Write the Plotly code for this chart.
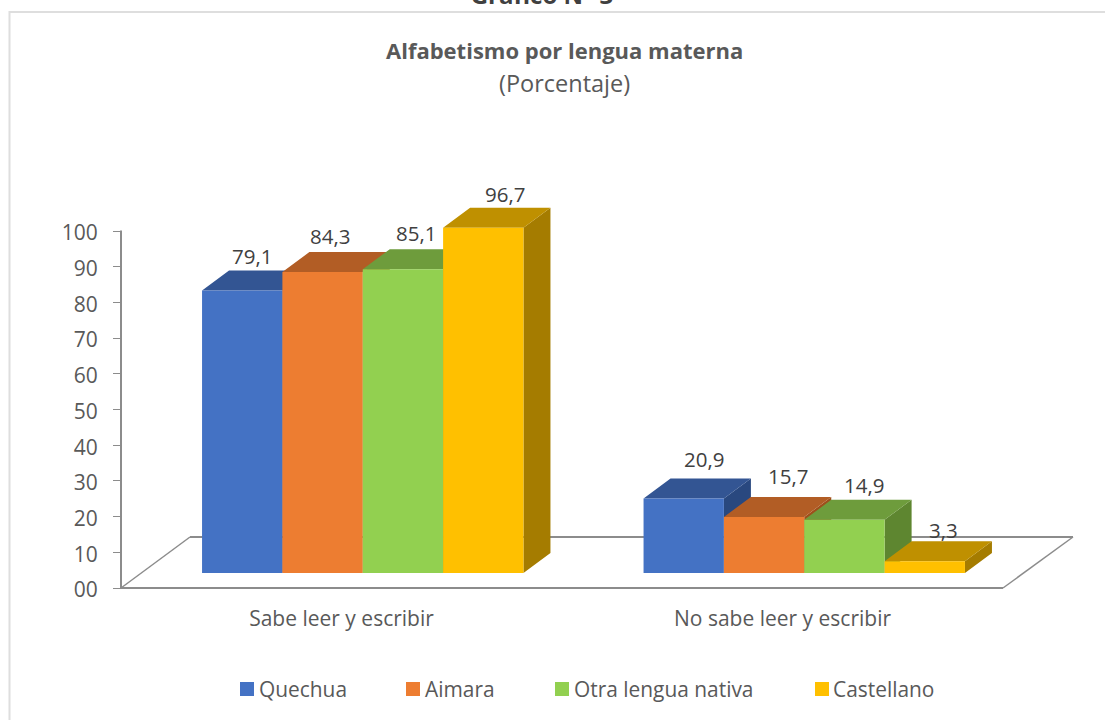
import plotly.graph_objects as go

categories = ["Sabe leer y escribir", "No sabe leer y escribir"]
series_names = ["Quechua", "Aimara", "Otra lengua nativa", "Castellano"]
quechua = [79.1, 20.9]
aimara = [84.3, 15.7]
otra = [85.1, 14.9]
castellano = [96.7, 3.3]
series_values = [quechua, aimara, otra, castellano]
value_labels = [["79,1", "20,9"], ["84,3", "15,7"], ["85,1", "14,9"], ["96,7", "3,3"]]
tick_values = [0, 10, 20, 30, 40, 50, 60, 70, 80, 90, 100]
tick_labels = ["00", "10", "20", "30", "40", "50", "60", "70", "80", "90", "100"]
front_colors = ["#4472C4", "#ED7D31", "#92D050", "#FFC000"]
top_colors = ["#335593", "#B25D25", "#6E9C3C", "#BF9000"]
side_colors = ["#29487F", "#9E4F1B", "#5E8630", "#A57C00"]

W, H = 1105, 720
FONT = "Open Sans"
GREY = "#595959"


def px(v):
    return v / W


def py(v):
    return 1 - v / H


# Axis geometry (pixels)
X0, X1 = 121, 1003
Y0, Y100 = 588, 231
UNIT = (Y0 - Y100) / 100
SHIFT_X, SHIFT_Y = 21, 15
DEPTH_X, DEPTH_Y = 27, 20
UX = (X1 - X0) / 2
UX2 = 441.5
BAR_W = 80.35 / UX2
dx = DEPTH_X / UX2
dy = DEPTH_Y / UNIT

fig = go.Figure()

# invisible trace keeps the visible axes pair alive
fig.add_trace(go.Scatter(x=[0, 1], y=[0, 0], mode="markers", marker=dict(opacity=0),
                         xaxis="x", yaxis="y", showlegend=False, hoverinfo="skip"))

z = 1
for i, name in enumerate(series_names):
    vals = series_values[i]
    left = [c - 2 * BAR_W + i * BAR_W for c in range(2)]
    tx, ty, sx, sy = [], [], [], []
    for l, v in zip(left, vals):
        r = l + BAR_W
        tx += [l, l + dx, r + dx, r, l, None]
        ty += [v, v + dy, v + dy, v, v, None]
        sx += [r, r + dx, r + dx, r, r, None]
        sy += [0, dy, v + dy, v, 0, None]
    fig.add_trace(go.Scatter(x=sx, y=sy, mode="lines", fill="toself", fillcolor=side_colors[i],
                             line=dict(width=0), xaxis="x2", yaxis="y2", showlegend=False,
                             hoverinfo="skip", zorder=z))
    fig.add_trace(go.Scatter(x=tx, y=ty, mode="lines", fill="toself", fillcolor=top_colors[i],
                             line=dict(width=0), xaxis="x2", yaxis="y2", showlegend=False,
                             hoverinfo="skip", zorder=z + 1))
    fig.add_trace(go.Bar(x=[0, 1], y=vals, name=name, marker=dict(color=front_colors[i], line=dict(width=0)),
                         xaxis="x2", yaxis="y2", zorder=z + 2, showlegend=False))
    z += 3

# data labels: offsets from the bar's top-back edge, in pixels
label_off_x = [[10, 20], [7, 24], [13, 20], [22, 19]]
label_off_y = [[15, 19], [16, 21], [16, 15], [14, 11]]
for i in range(4):
    for c in range(2):
        cx = c - 2 * BAR_W + (i + 0.5) * BAR_W
        fig.add_annotation(x=cx, y=series_values[i][c] + dy, xref="x2", yref="y2", text=value_labels[i][c],
                           showarrow=False, xanchor="center", yanchor="middle",
                           xshift=label_off_x[i][c], yshift=label_off_y[i][c],
                           font=dict(family=FONT, size=20.5, color="#404040"))

fig.update_layout(
    width=W, height=H, autosize=False,
    margin=dict(l=0, r=0, t=0, b=0),
    paper_bgcolor="white", plot_bgcolor="rgba(0,0,0,0)",
    barmode="group", bargap=1 - 4 * BAR_W, bargroupgap=0,
    showlegend=False,
    font=dict(family=FONT, color=GREY),
    title=dict(text="<b>Gráfico N° 3</b>", x=px(542), xanchor="center", y=py(4), yanchor="bottom",
               font=dict(family=FONT, size=24, color="#404040")),
    xaxis=dict(domain=[px(X0), px(X1)], range=[-0.5, 1.5], anchor="y", tickmode="array", automargin=False,
               tickvals=[0, 1], ticktext=categories, showgrid=False, zeroline=False,
               showline=False, ticks="", ticklen=0,
               tickfont=dict(family=FONT, size=21, color=GREY), ticklabelstandoff=16),
    yaxis=dict(domain=[py(Y0), py(Y100)], range=[0, 100], anchor="x", tickmode="array", automargin=False,
               tickvals=tick_values, ticktext=tick_labels, showgrid=False, zeroline=False,
               showline=False, ticks="outside", ticklen=7,
               tickcolor="#8C8C8C", tickwidth=1, ticklabelstandoff=11, ticklabelshift=2,
               tickfont=dict(family=FONT, size=21, color=GREY)),
    xaxis2=dict(domain=[px(X0 + SHIFT_X), px(X0 + SHIFT_X + 2 * UX2)], range=[-0.5, 1.5], anchor="y2",
                visible=False, fixedrange=True, automargin=False),
    yaxis2=dict(domain=[py(Y0 - SHIFT_Y + 60), py(100)],
                range=[-60 / UNIT, (Y0 - SHIFT_Y - 100) / UNIT], anchor="x2",
                visible=False, fixedrange=True, automargin=False),
    shapes=[
        dict(type="rect", xref="paper", yref="paper", x0=px(9.5), x1=px(1130), y0=py(12), y1=py(760),
             line=dict(color="#DEDEDE", width=2), layer="below"),
        dict(type="line", xref="paper", yref="paper", x0=px(190), x1=px(1073), y0=py(537), y1=py(537),
             line=dict(color="#8C8C8C", width=2), layer="below"),
        dict(type="line", xref="paper", yref="paper", x0=px(121), x1=px(190), y0=py(588), y1=py(537),
             line=dict(color="#8C8C8C", width=1.5), layer="below"),
        dict(type="line", xref="paper", yref="paper", x0=px(1003), x1=px(1073), y0=py(588), y1=py(537),
             line=dict(color="#8C8C8C", width=1.5), layer="below"),
        dict(type="line", xref="paper", yref="paper", x0=px(120), x1=px(1003), y0=py(588), y1=py(588),
             line=dict(color="#8C8C8C", width=2), layer="below"),
        dict(type="line", xref="paper", yref="paper", x0=px(121), x1=px(121), y0=py(589), y1=py(230.5),
             line=dict(color="#8C8C8C", width=2), layer="below"),
    ],
)

# titles
fig.add_annotation(x=px(564.5), y=py(50), xref="paper", yref="paper", text="<b>Alfabetismo por lengua materna</b>",
                   showarrow=False, xanchor="center", yanchor="middle", font=dict(family=FONT, size=22, color=GREY))
fig.add_annotation(x=px(564), y=py(83), xref="paper", yref="paper", text="(Porcentaje)",
                   showarrow=False, xanchor="center", yanchor="middle", font=dict(family=FONT, size=23.5, color=GREY))

# legend (swatch + label)
legend_x = [240, 406, 555, 815]
legend_label_x = [257, 423, 572, 831]
legend_y = 689
for i, name in enumerate(series_names):
    fig.add_shape(type="rect", xref="paper", yref="paper", x0=px(legend_x[i]), x1=px(legend_x[i] + 14),
                  y0=py(legend_y - 7), y1=py(legend_y + 7), fillcolor=front_colors[i], line=dict(width=0))
    fig.add_annotation(x=px(legend_label_x[i]), y=py(legend_y), xref="paper", yref="paper", text=name,
                       showarrow=False, xanchor="left", yanchor="middle", font=dict(family=FONT, size=20.9, color=GREY))

fig.write_html("out.html", config=dict(displayModeBar=False),
               post_script="document.body.style.margin='0';document.body.style.overflow='hidden';")
